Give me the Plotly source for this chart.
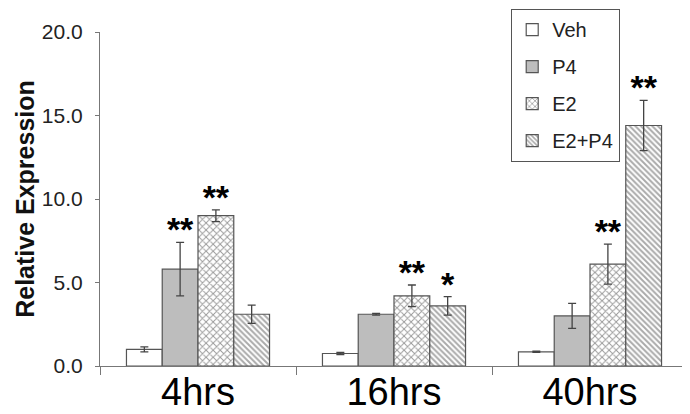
import plotly.graph_objects as go

categories = ["4hrs", "16hrs", "40hrs"]
series = ["Veh", "P4", "E2", "E2+P4"]
veh = [1.0, 0.75, 0.85]
veh_err = [0.15, 0.06, 0.04]
p4 = [5.8, 3.1, 3.0]
p4_err = [1.6, 0.05, 0.75]
e2 = [9.0, 4.2, 6.1]
e2_err = [0.35, 0.65, 1.2]
e2p4 = [3.1, 3.6, 14.4]
e2p4_err = [0.55, 0.55, 1.5]
veh_sig = ["", "", ""]
p4_sig = ["**", "", ""]
e2_sig = ["**", "**", "**"]
e2p4_sig = ["", "*", "**"]
y_ticks = [0, 5, 10, 15, 20]

values = [veh, p4, e2, e2p4]
errors = [veh_err, p4_err, e2_err, e2p4_err]
sigs = [veh_sig, p4_sig, e2_sig, e2p4_sig]

line_col = "#555555"
patterns = [
    dict(shape="", bgcolor="white"),
    dict(shape=""),
    dict(shape="x", fgcolor="#333333", bgcolor="white", size=5, solidity=0.35),
    dict(shape="\\", fgcolor="#555555", bgcolor="white", size=4, solidity=0.5),
]
fills = ["white", "#bdbdbd", "white", "white"]
star_drop = 0.45  # small style offset so the asterisks sit just above the error bars

fig = go.Figure()
for i, name in enumerate(series):
    fig.add_trace(go.Bar(
        name=name, x=categories, y=values[i],
        marker=dict(color=fills[i], line=dict(color=line_col, width=1.2), pattern=patterns[i]),
        error_y=dict(type="data", array=errors[i], color="#444444", thickness=1.3, width=4),
        legendgroup=name,
    ))
for i, name in enumerate(series):
    tops = [v + e - star_drop for v, e in zip(values[i], errors[i])]
    fig.add_trace(go.Scatter(
        x=categories, y=tops, mode="text", text=sigs[i], textposition="top center",
        textfont=dict(family="Liberation Sans", size=34, color="black", weight="bold"),
        showlegend=False, hoverinfo="skip", cliponaxis=False,
    ))

# page body has an 8px default margin, so the figure is 8px smaller than the window
fig.update_layout(
    width=682, height=406,
    margin=dict(l=92, r=2, t=24, b=48, autoexpand=False),
    paper_bgcolor="white", plot_bgcolor="white",
    barmode="group", bargap=0.27, bargroupgap=0,
    scattermode="group", scattergap=0.27,
    font=dict(family="Liberation Sans", color="#222222"),
    showlegend=True,
    legend=dict(
        x=0.699, y=1.069, xanchor="left", yanchor="top",
        bordercolor="#555555", borderwidth=1.2, bgcolor="white",
        font=dict(family="Liberation Sans", size=20, color="#222222"),
        tracegroupgap=8, itemwidth=30,
    ),
)
fig.update_xaxes(
    type="category", tickson="boundaries", ticks="outside", ticklen=8, tickcolor="#777777",
    showline=True, linecolor="#777777", linewidth=1.2, showgrid=False,
    tickfont=dict(size=38, color="black"), ticklabelstandoff=-8, automargin=False,
)
fig.update_yaxes(
    range=[0, 20], tickvals=y_ticks, tickformat=".1f", ticks="outside", ticklen=4,
    tickcolor="#777777", showline=True, linecolor="#777777", linewidth=1.2, showgrid=False,
    zeroline=False, tickfont=dict(size=21, color="#222222"), ticklabelstandoff=8,
    automargin=False,
    title=dict(text="Relative Expression", font=dict(size=25, color="#111111", weight="bold"), standoff=0),
)
fig.write_html("out.html")
